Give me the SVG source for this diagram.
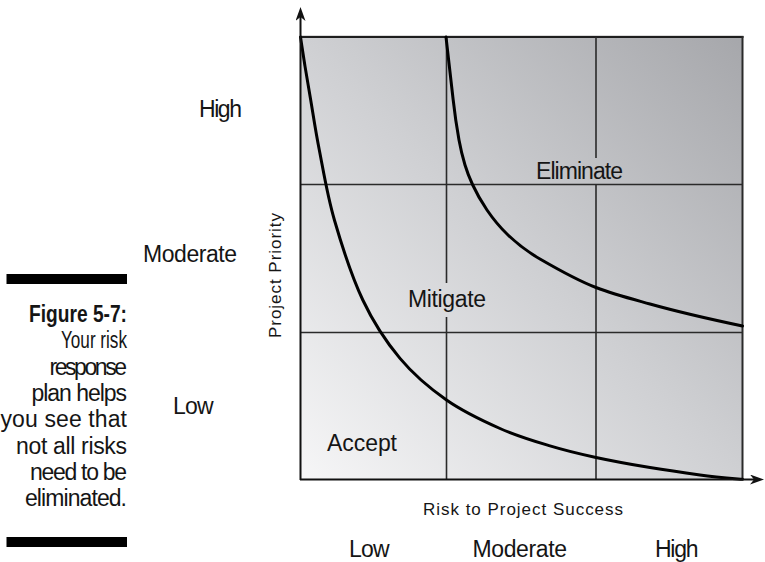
<svg xmlns="http://www.w3.org/2000/svg" width="765" height="562" viewBox="0 0 765 562">
<defs>
<linearGradient id="bg" x1="0" y1="1" x2="1" y2="0">
<stop offset="0" stop-color="#f6f6f7"/>
<stop offset="0.5" stop-color="#cfd0d3"/>
<stop offset="1" stop-color="#a6a7ab"/>
</linearGradient>
<marker id="arr" viewBox="0 0 14 10" refX="9" refY="5" markerWidth="14" markerHeight="10" markerUnits="userSpaceOnUse" orient="auto">
<path d="M0,0 L14,5 L0,10 L4,5 z" fill="#111"/>
</marker>
</defs>
<style>
text{font-family:"Liberation Sans Narrow","Liberation Sans",Arial,sans-serif;fill:#151515}
.lbl{font-size:23px}
.ttl{font-size:17px}
.cap{font-size:23px;text-anchor:end}
.capb{font-size:24px;font-weight:bold;text-anchor:end}
.grid{stroke:#2a2a2a;stroke-width:1.6;fill:none}
.curve{stroke:#000;stroke-width:3;fill:none;stroke-linecap:round}
.axis{stroke:#111;stroke-width:2;fill:none}
</style>
<rect width="765" height="562" fill="#fff"/>

<g id="caption">
<rect x="6.5" y="274" width="120.5" height="10" fill="#000"/>
<text class="capb" x="127" y="322" textLength="98" lengthAdjust="spacingAndGlyphs">Figure 5-7:</text>
<text class="cap" x="127" y="348.3" textLength="66" lengthAdjust="spacingAndGlyphs">Your risk</text>
<text class="cap" x="127" y="374.6" textLength="77.5" lengthAdjust="spacing">response</text>
<text class="cap" x="127" y="400.9" textLength="95.5" lengthAdjust="spacing">plan helps</text>
<text class="cap" x="127" y="427.2" textLength="126.5" lengthAdjust="spacing">you see that</text>
<text class="cap" x="127" y="453.5" textLength="111" lengthAdjust="spacing">not all risks</text>
<text class="cap" x="127" y="479.8" textLength="97" lengthAdjust="spacing">need to be</text>
<text class="cap" x="127" y="506.1" textLength="102" lengthAdjust="spacing">eliminated.</text>
<rect x="6.5" y="537" width="120.5" height="10" fill="#000"/>
</g>

<g id="chart-area">
<rect x="300.5" y="37" width="442" height="442.5" fill="url(#bg)"/>
<line x1="300.5" y1="35.6" x2="743.5" y2="35.6" stroke="#d8d8d8" stroke-width="1"/>
<line x1="300.5" y1="37" x2="743.5" y2="37" stroke="#1e1e1e" stroke-width="2"/>
<line x1="742.5" y1="36" x2="742.5" y2="479.5" stroke="#2a2a2a" stroke-width="2"/>
</g>

<g id="grid-lines">
<line class="grid" x1="300.5" y1="184.5" x2="742.5" y2="184.5"/>
<line class="grid" x1="300.5" y1="332.5" x2="742.5" y2="332.5"/>
<line class="grid" x1="446.5" y1="37" x2="446.5" y2="283"/>
<line class="grid" x1="446.5" y1="317" x2="446.5" y2="479.5"/>
<line class="grid" x1="596" y1="37" x2="596" y2="158"/>
<line class="grid" x1="596" y1="184.5" x2="596" y2="479.5"/>
</g>

<g id="curves">
<path id="curve-accept" class="curve" d="M300.5,37 C301.9,46.3 303.1,54.5 304.8,65 C306.5,75.5 308.3,85.8 310.7,100 C313.1,114.2 315.35,130 319.3,150 C323.25,170 327.15,195 334.4,220 C341.65,245 351.9,276.9 362.8,300 C373.7,323.1 386.05,341.7 400,358.4 C413.95,375.1 429.8,388.3 446.5,400 C463.2,411.7 482.75,420.85 500,428.5 C517.25,436.15 534,441.07 550,445.9 C566,450.73 579.3,453.9 596,457.5 C612.7,461.1 632.7,464.7 650,467.6 C667.3,470.5 684.6,472.9 700,474.9 C715.4,476.9 728.3,478 742.5,479.3"/>
<path id="curve-eliminate" class="curve" d="M446,37 C448.52,58 450.89,79 453.2,100 C454.67,113.33 456.6,126.67 459,140 C460.5,148.33 462.5,156.67 465,165 C466.95,171.5 469.51,178 472.5,184.5 C476.41,193 481.22,201.5 487,210 C492.67,218.33 499.25,226.67 508,235 C518.67,245.13 529.33,252.81 540,259 C558.67,269.83 577.33,280.41 596,287.5 C614,294.34 632,298.96 650,304 C680.83,312.63 711.67,319.53 742.5,326"/>
</g>

<g id="axes">
<line class="axis" x1="300.5" y1="480" x2="300.5" y2="12" marker-end="url(#arr)"/>
<line class="axis" x1="300" y1="479.5" x2="759" y2="479.5" marker-end="url(#arr)"/>
</g>

<g id="zone-labels">
<text class="lbl" x="536" y="179.3" textLength="87" lengthAdjust="spacing">Eliminate</text>
<text class="lbl" x="408" y="306.7" textLength="78" lengthAdjust="spacing">Mitigate</text>
<text class="lbl" x="327" y="451" textLength="70" lengthAdjust="spacing">Accept</text>
</g>

<g id="y-axis-labels">
<text class="lbl" x="199" y="116.7" textLength="43" lengthAdjust="spacing">High</text>
<text class="lbl" x="143" y="261.7" textLength="94" lengthAdjust="spacing">Moderate</text>
<text class="lbl" x="173" y="413.5" textLength="40.5" lengthAdjust="spacing">Low</text>
<text class="ttl" transform="translate(280.5,275.5) rotate(-90)" x="0" y="0" text-anchor="middle" textLength="125" lengthAdjust="spacing">Project Priority</text>
</g>

<g id="x-axis-labels">
<text class="ttl" x="423" y="515" textLength="200" lengthAdjust="spacing">Risk to Project Success</text>
<text class="lbl" x="349" y="556.7" textLength="40.5" lengthAdjust="spacing">Low</text>
<text class="lbl" x="472.5" y="556.7" textLength="94.5" lengthAdjust="spacing">Moderate</text>
<text class="lbl" x="655" y="556.7" textLength="43.5" lengthAdjust="spacing">High</text>
</g>
</svg>
